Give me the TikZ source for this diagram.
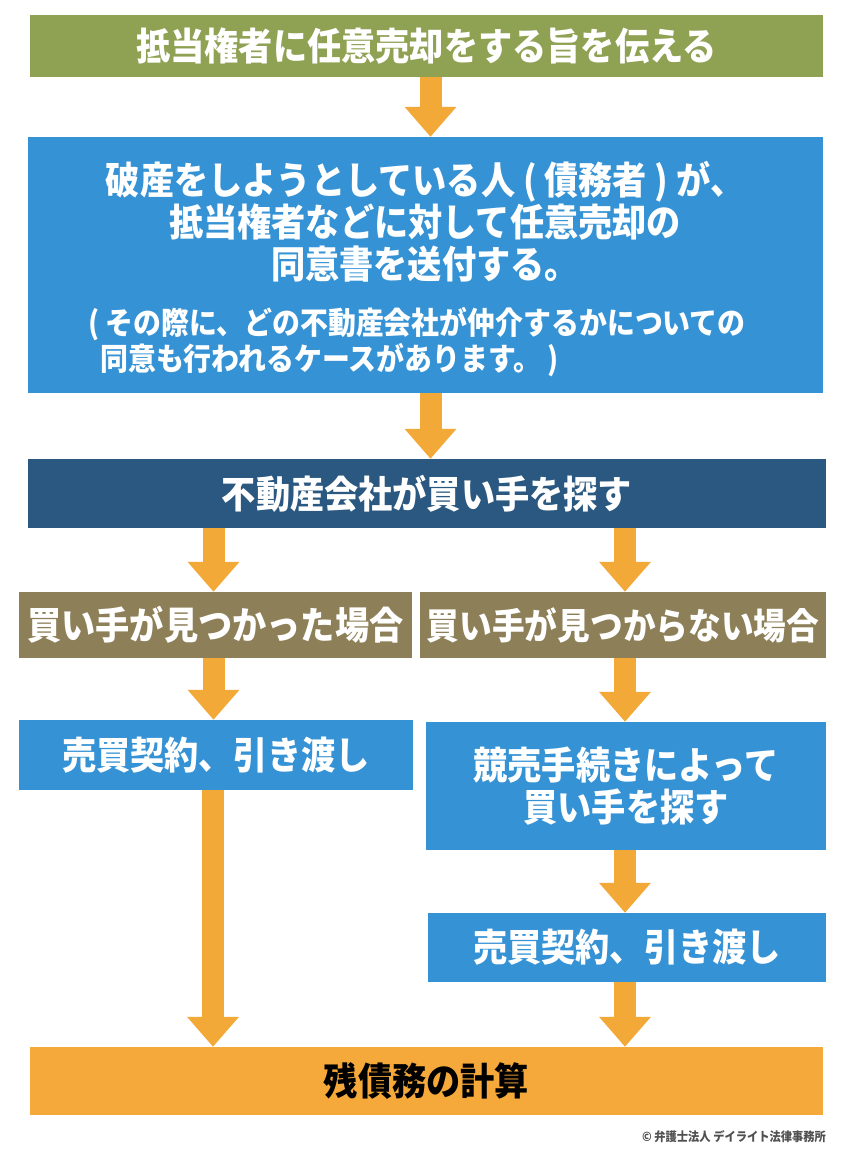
\documentclass[tikz,border=0pt]{standalone}
\usepackage{fontspec}
\newfontfamily\jp{Noto Sans CJK JP}[FakeStretch=0.9]
\usetikzlibrary{arrows.meta}
\definecolor{cgreen}{HTML}{8FA152}
\definecolor{cblue}{HTML}{3592D5}
\definecolor{cdark}{HTML}{2A5880}
\definecolor{cbrown}{HTML}{8D7F57}
\definecolor{corange}{HTML}{F5A93A}
\definecolor{carrow}{HTML}{F2A938}
\definecolor{cgray}{HTML}{505050}
\begin{document}
\begin{tikzpicture}[x=1pt,y=-1pt,
  box/.style={rectangle, inner sep=0pt, text=white, align=center,
    font=\jp\bfseries\fontsize{38}{42}\selectfont},
  txt/.style={inner sep=0pt, text=white, font=\jp\bfseries\fontsize{38}{42}\selectfont},
  note/.style={inner sep=0pt, text=white, align=left, font=\jp\bfseries\fontsize{31}{36}\selectfont},
  arr/.style={draw=carrow, line width=22pt, -{Triangle[width=50pt,length=30pt]}}]
\useasboundingbox (0,0) rectangle (850,1163);
\fill[white] (0,0) rectangle (850,1163);

\node[box, fill=cgreen, minimum width=793pt, minimum height=62pt] (n1) at (426.5,46) {抵当権者に任意売却をする旨を伝える};
\node[box, fill=cblue, minimum width=795pt, minimum height=256pt] (n2) at (425.5,265) {};
\node[txt, align=center] (n2t) at (425,222) {破産をしようとしている人 ( 債務者 ) が、\\抵当権者などに対して任意売却の\\同意書を送付する。};
\node[note, anchor=west] (n2n) at (88,342) {( その際に、どの不動産会社が仲介するかについての\\\hspace{12pt}同意も行われるケースがあります。 )};
\node[box, fill=cdark, minimum width=798pt, minimum height=69pt] (n3) at (427,493.5) {不動産会社が買い手を探す};
\node[box, fill=cbrown, minimum width=393pt, minimum height=66pt] (n4l) at (215.5,625) {買い手が見つかった場合};
\node[box, fill=cbrown, minimum width=406pt, minimum height=66pt, font=\jp\bfseries\fontsize{36.3}{42}\selectfont] (n4r) at (623,625) {買い手が見つからない場合};
\node[box, fill=cblue, minimum width=394pt, minimum height=70pt] (n5l) at (216,755) {売買契約、引き渡し};
\node[box, fill=cblue, minimum width=400pt, minimum height=128pt] (n5r) at (626,786) {競売手続きによって\\買い手を探す};
\node[box, fill=cblue, minimum width=398pt, minimum height=69pt] (n6r) at (627,947.5) {売買契約、引き渡し};
\node[box, fill=corange, text=black, minimum width=793pt, minimum height=68pt] (n7) at (426.5,1081) {残債務の計算};
\node[anchor=east, inner sep=0pt, text=cgray, font=\jp\bfseries\fontsize{12.5}{14}\selectfont] (copy) at (826,1137) {© 弁護士法人 デイライト法律事務所};

\draw[arr] ([xshift=4pt]n1.south) -- ([xshift=4pt]n1.south |- n2.north);
\draw[arr] ([xshift=5pt]n2.south) -- ([xshift=5pt]n2.south |- n3.north);
\draw[arr] ([xshift=-2pt]n4l.north |- n3.south) -- ([xshift=-2pt]n4l.north);
\draw[arr] ([xshift=2pt]n4r.north |- n3.south) -- ([xshift=2pt]n4r.north);
\draw[arr] ([xshift=-2pt]n4l.south) -- ([xshift=-2pt]n4l.south |- n5l.north);
\draw[arr] ([xshift=2pt]n4r.south) -- ([xshift=2pt]n4r.south |- n5r.north);
\draw[arr] ([xshift=-1pt]n5r.south) -- ([xshift=-1pt]n5r.south |- n6r.north);
\draw[arr] ([xshift=-3pt]n5l.south) -- ([xshift=-3pt]n5l.south |- n7.north);
\draw[arr] ([xshift=-2pt]n6r.south) -- ([xshift=-2pt]n6r.south |- n7.north);
\end{tikzpicture}
\end{document}
